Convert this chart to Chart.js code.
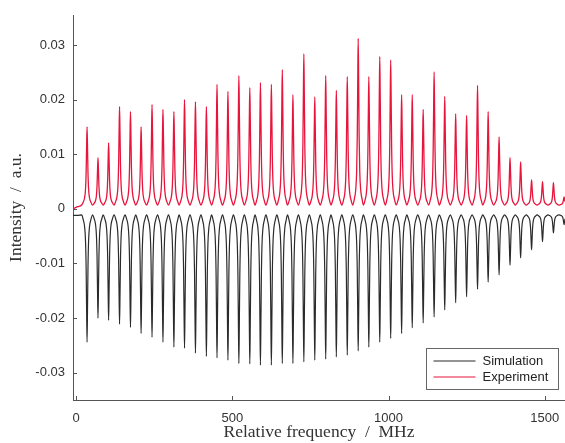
<html>
<head>
<meta charset="utf-8" />
<title>Spectrum</title>
<style>
  body { margin: 0; background: #fff; }
  #spec { display: block; }
</style>
</head>
<body>
<canvas id="spec" width="565" height="443"></canvas>

<script src="https://cdn.jsdelivr.net/npm/chart.js"></script>
<script>

// mode positions, MHz
peakMHz = [35, 70, 104, 139, 174, 208, 243, 278, 313, 347,
           382, 417, 451, 486, 521, 556, 590, 625, 660, 694,
           729, 764, 799, 833, 868, 903, 937, 972, 1007, 1042,
           1076, 1111, 1146, 1180, 1215, 1250, 1285, 1319, 1354, 1389,
           1423, 1458, 1493, 1528, 1562];

// measured peak heights
expPeak = [0.0150, 0.0094, 0.0121, 0.0187, 0.0178, 0.0150, 0.0191, 0.0182, 0.0178, 0.0200,
           0.0196, 0.0187, 0.0228, 0.0215, 0.0244, 0.0222, 0.0231, 0.0228, 0.0255, 0.0209,
           0.0284, 0.0205, 0.0244, 0.0217, 0.0242, 0.0312, 0.0242, 0.0279, 0.0273, 0.0209,
           0.0209, 0.0182, 0.0251, 0.0206, 0.0174, 0.0171, 0.0226, 0.0178, 0.0132, 0.0094,
           0.0086, 0.0053, 0.0050, 0.0048, 0.0022];

// simulated dips (plotted inverted)
simPeak = [-0.0244, -0.0200, -0.0204, -0.0211, -0.0217, -0.0228, -0.0235, -0.0244, -0.0253, -0.0255,
           -0.0264, -0.0270, -0.0273, -0.0277, -0.0283, -0.0284, -0.0286, -0.0286, -0.0283, -0.0283,
           -0.0280, -0.0277, -0.0275, -0.0271, -0.0268, -0.0260, -0.0253, -0.0244, -0.0237, -0.0228,
           -0.0218, -0.0209, -0.0198, -0.0185, -0.0172, -0.0161, -0.0147, -0.0134, -0.0121, -0.0103,
           -0.0090, -0.0075, -0.0060, -0.0044, -0.0029];

// level between modes
expBase = 0.0007;
simBase = -0.0011;

// left end of each trace
startMHz = [-10, 5];
expStart = [0.0000, 0.0004];
simStart = [-0.0012, -0.0012];

// one mode's profile: offset from centre (MHz) and fraction of height
shapeMHz   = [-17.3, -12, -8, -5, -3, -1.5, 0, 1.5, 3, 5, 8, 12];
shapeLevel = [0, 0.04, 0.09, 0.2, 0.41, 0.73, 1, 0.73, 0.41, 0.2, 0.09, 0.04];

yTicks = [-0.03, -0.02, -0.01, 0, 0.01, 0.02, 0.03];
xTicks = [0, 500, 1000, 1500];

function buildTrace(peaks, base, startY) {
  var pts = [];
  for (var i = 0; i < startMHz.length; i++) pts.push({x: startMHz[i], y: startY[i]});
  for (var k = 0; k < peakMHz.length; k++) {
    for (var j = 0; j < shapeMHz.length; j++) {
      pts.push({x: peakMHz[k] + shapeMHz[j], y: base + shapeLevel[j] * (peaks[k] - base)});
    }
  }
  pts.push({x: peakMHz[peakMHz.length - 1] + 17.3, y: base});
  return pts;
}

Chart.defaults.font.family = "'Liberation Sans', Arial, sans-serif";
Chart.defaults.font.size = 13;
Chart.defaults.color = '#333';

// small inward tick marks and the boxed legend inside the plot
var decorations = {
  id: 'decorations',
  afterDraw: function(chart) {
    var c = chart.ctx, a = chart.chartArea;
    var xs = chart.scales.x, ys = chart.scales.y;
    c.save();
    c.strokeStyle = '#555';
    c.lineWidth = 1;
    c.beginPath();
    yTicks.forEach(function(v) {
      var py = Math.round(ys.getPixelForValue(v)) + 0.5;
      c.moveTo(a.left, py); c.lineTo(a.left + 4, py);
    });
    xTicks.forEach(function(v) {
      var px = Math.round(xs.getPixelForValue(v)) + 0.5;
      c.moveTo(px, a.bottom); c.lineTo(px, a.bottom - 4);
    });
    c.stroke();

    // legend
    var bx = 426.5, by = 348.5, bw = 132, bh = 41;
    c.fillStyle = '#fff';
    c.fillRect(bx, by, bw, bh);
    c.strokeStyle = '#666';
    c.strokeRect(bx, by, bw, bh);
    c.font = "13px 'Liberation Sans', Arial, sans-serif";
    c.textBaseline = 'middle';
    chart.data.datasets.forEach(function(ds, i) {
      var ly = by + 12.5 + i * 16;
      c.strokeStyle = ds.borderColor;
      c.lineWidth = 1.2;
      c.beginPath();
      c.moveTo(bx + 7, ly); c.lineTo(bx + 49, ly);
      c.stroke();
      c.fillStyle = '#222';
      c.fillText(ds.label, bx + 56, ly);
    });
    c.restore();
  }
};

var ctx = document.getElementById('spec');
var spec = new Chart(ctx, {
  type: 'line',
  data: {
    datasets: [{
      label: 'Simulation',
      data: buildTrace(simPeak, simBase, simStart),
      borderColor: '#2b2b2b',
      borderWidth: 1.2,
      pointRadius: 0,
      cubicInterpolationMode: 'monotone'
    }, {
      label: 'Experiment',
      data: buildTrace(expPeak, expBase, expStart),
      borderColor: '#e8143c',
      borderWidth: 1.3,
      pointRadius: 0,
      cubicInterpolationMode: 'monotone'
    }]
  },
  options: {
    responsive: false,
    animation: false,
    parsing: false,
    layout: { padding: { top: 15, right: 0, bottom: 0, left: 0 } },
    plugins: { legend: { display: false }, tooltip: { enabled: false } },
    scales: {
      x: {
        type: 'linear',
        min: -10,
        max: 1565,
        afterFit: function(s) { s.height = 43; s.paddingLeft = 0; s.paddingRight = 0; },
        afterBuildTicks: function(s) { s.ticks = xTicks.map(function(v) { return {value: v}; }); },
        grid: { display: false, drawTicks: false },
        border: { display: true, color: '#555', width: 1 },
        ticks: { padding: 11, maxRotation: 0, callback: function(v) { return String(v); } },
        title: {
          display: true,
          text: 'Relative frequency  /  MHz',
          font: { family: "'Liberation Serif', 'Times New Roman', serif", size: 17.5 },
          color: '#333',
          padding: { top: 0, bottom: 0 }
        }
      },
      y: {
        type: 'linear',
        min: -0.035,
        max: 0.0355,
        afterFit: function(s) { s.width = 73; s.paddingTop = 0; s.paddingBottom = 0; },
        afterBuildTicks: function(s) { s.ticks = yTicks.map(function(v) { return {value: v}; }); },
        grid: { display: false, drawTicks: false },
        border: { display: true, color: '#555', width: 1 },
        ticks: { padding: 8, callback: function(v) { return String(Number(v.toFixed(2))); } },
        title: {
          display: true,
          text: 'Intensity  /  a.u.',
          font: { family: "'Liberation Serif', 'Times New Roman', serif", size: 17.5 },
          color: '#333',
          padding: { top: 6, bottom: 0 }
        }
      }
    }
  },
  plugins: [decorations]
});

</script>
</body>
</html>
